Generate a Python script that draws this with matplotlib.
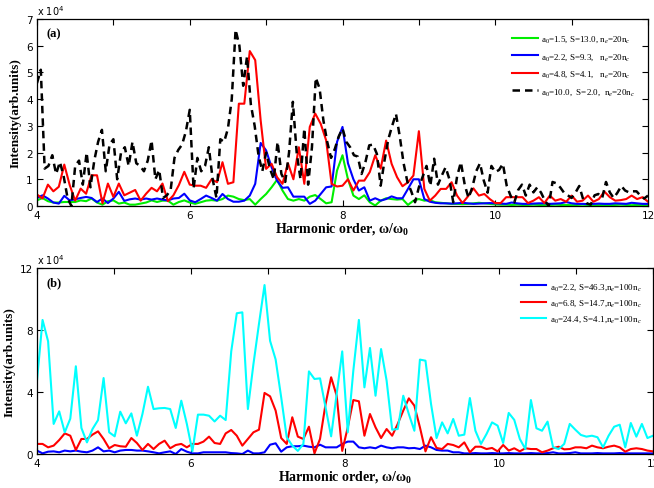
"""
Harmonic spectra for two target densities (n_e = 20 n_c and 100 n_c).
Values are read in units of 1e4 (arb. units) and scaled on plotting.
"""

import matplotlib
matplotlib.use("Agg")
import matplotlib.pyplot as plt
import numpy as np
from matplotlib.ticker import FuncFormatter, MultipleLocator

plt.rcParams["mathtext.fontset"] = "custom"
plt.rcParams["mathtext.rm"] = "Liberation Serif"
plt.rcParams["mathtext.it"] = "Liberation Serif:italic"
plt.rcParams["mathtext.bf"] = "Liberation Serif:bold"

SCALE = 1e4
X_MIN, X_MAX = 4, 12

# ---- panel (a): n_e = 20 n_c, intensity in units of 1e4 ----
green_a = [0.21, 0.3, 0.18, 0.13, 0.13, 0.15, 0.15, 0.15, 0.21, 0.18, 0.28, 0.13, 0.05, 0.18, 0.21,
           0.09, 0.13, 0.05, 0.05, 0.09, 0.13, 0.21, 0.15, 0.2, 0.2, 0.05, 0.15, 0.21, 0.13,
           0.08, 0.14, 0.2, 0.22, 0.2, 0.26, 0.39, 0.35, 0.26, 0.22, 0.26, 0.05, 0.26, 0.45, 0.7,
           0.98, 0.58, 0.26, 0.2, 0.26, 0.2, 0.35, 0.41, 0.26, 0.1, 0.14, 1.33, 1.9,
           1.0, 0.39, 0.26, 0.4, 0.14, 0.02, 0.2, 0.29, 0.26, 0.24, 0.26, 0.04, 0.2, 0.26, 0.2,
           0.22, 0.14, 0.12, 0.1, 0.08, 0.08, 0.07, 0.08, 0.1, 0.12, 0.1, 0.08, 0.06, 0.05, 0.05,
           0.04, 0.05, 0.04, 0.04, 0.05, 0.04, 0.03, 0.04, 0.05, 0.04, 0.04, 0.03, 0.04, 0.05, 0.04,
           0.03, 0.04, 0.04, 0.03, 0.04, 0.05, 0.04, 0.03, 0.04, 0.04, 0.03]
blue_a = [0.3, 0.4, 0.28, 0.13, 0.09, 0.38, 0.21, 0.25, 0.3, 0.34, 0.3, 0.15, 0.28, 0.11, 0.28,
          0.53, 0.19, 0.25, 0.28, 0.24, 0.28, 0.24, 0.28, 0.24, 0.21, 0.28, 0.3, 0.46, 0.21,
          0.14, 0.26, 0.39, 0.3, 0.2, 0.45, 0.26, 0.16, 0.16, 0.2, 0.39, 0.83, 2.36, 2.08, 1.45,
          0.95, 0.68, 0.7, 0.35, 0.35, 0.35, 0.08, 0.2, 0.45, 0.7, 0.73, 2.4, 2.96,
          1.6, 1.0, 0.58, 0.7, 0.2, 0.29, 0.2, 0.26, 0.36, 0.29, 0.29, 0.64, 1.0, 1.0, 0.26,
          0.16, 0.12, 0.1, 0.1, 0.09, 0.1, 0.12, 0.1, 0.08, 0.09, 0.1, 0.11, 0.1, 0.09, 0.08,
          0.13, 0.1, 0.08, 0.08, 0.09, 0.1, 0.1, 0.08, 0.09, 0.1, 0.15, 0.1, 0.08, 0.08, 0.07,
          0.08, 0.09, 0.08, 0.08, 0.1, 0.09, 0.08, 0.12, 0.1, 0.08, 0.08]
red_a = [0.43, 0.28, 0.8, 0.55, 0.72, 1.55, 0.78, 0.2, 0.65, 0.46, 1.15, 1.15, 0.1, 0.84, 0.34,
         0.84, 0.4, 0.5, 0.6, 0.2, 0.46, 0.68, 0.55, 0.84, 0.18, 0.4, 0.78, 1.28, 0.8,
         0.76, 0.76, 0.68, 1.0, 0.89, 1.64, 0.83, 0.89, 3.83, 3.83, 5.8, 5.46, 3.2, 1.39, 1.58,
         1.08, 0.83, 1.6, 1.0, 2.2, 0.83, 2.96, 3.46, 3.08, 2.46, 0.83, 0.73, 0.76,
         1.0, 0.58, 0.95, 0.95, 1.27, 1.9, 1.4, 2.45, 1.58, 1.08, 0.74, 0.89, 1.14, 2.8, 0.64,
         0.2, 0.39, 0.64, 0.64, 0.89, 0.39, 0.11, 0.36, 0.66, 0.39, 0.45, 0.26, 0.11, 0.11, 0.33,
         0.33, 0.33, 0.33, 0.11, 0.2, 0.33, 0.11, 0.39, 0.2, 0.26, 0.16, 0.39, 0.16, 0.2, 0.39,
         0.16, 0.26, 0.54, 0.33, 0.2, 0.22, 0.26, 0.39, 0.26, 0.33, 0.16]
black_a = [4.6, 5.1, 1.4, 1.5, 1.9, 1.2, 1.65, 1.1, 0.3, 0.0, 1.5, 1.7, 0.8, 2.0, 0.7, 1.7,
           2.4, 2.85, 1.3, 2.3, 2.5, 1.0, 2.0, 2.2, 1.5, 2.4, 1.6, 1.5, 1.3, 1.7, 2.45, 1.0,
           1.35, 0.3, 0.4, 0.6, 1.8, 2.1, 2.3, 2.8, 3.6, 0.65, 1.8, 1.3, 1.5, 2.2, 1.0, 0.3,
           2.5, 2.4, 2.9, 4.0, 6.6, 6.0, 4.5, 5.6, 3.8, 3.0, 1.9, 1.3, 2.0, 1.4, 1.0, 2.4,
           1.2, 0.9, 2.0, 3.9, 2.0, 1.0, 2.9, 0.8, 2.2, 4.8, 4.4, 3.2, 2.4,
           1.8, 2.14, 2.6, 2.9, 2.4, 2.2, 1.9, 1.85, 1.2, 1.64, 2.27, 2.3, 1.95, 0.76, 1.7, 2.5,
           3.0, 3.45, 2.6, 1.6, 0.9, 0.55, 0.14, 0.7, 1.1, 1.5, 0.76, 1.77, 0.8, 1.14, 1.45, 1.0,
           0.14, 1.1, 1.64, 0.8, 0.3, 0.7, 1.3, 1.6, 0.95, 0.5, 1.5, 1.27, 1.35, 1.58, 0.76, 0.39,
           0.14, 0.6, 0.8, 0.39, 0.8, 0.51, 0.7, 0.5, 0.2, 0.0, 0.9, 0.85, 0.7, 0.5, 0.4, 0.3,
           0.5, 0.75, 0.26, 0.1, 0.05, 0.4, 0.45, 0.3, 0.9, 0.51, 0.3, 0.5, 0.75, 0.58, 0.51, 0.55,
           0.55, 0.39, 0.28, 0.39]

labels_a = [r"a$_0$=1.5, S=13.0, n$_e$=20n$_c$",
            r"a$_0$=2.2, S=9.3,   n$_e$=20n$_c$",
            r"a$_0$=4.8, S=4.1,   n$_e$=20n$_c$",
            r"a$_0$=10.0,  S=2.0,  n$_e$=20n$_c$"]

# ---- panel (b): n_e = 100 n_c, intensity in units of 1e4 ----
blue_b = [0.22, 0.04, 0.15, 0.17, 0.11, 0.22, 0.17, 0.22, 0.15, 0.11, 0.22, 0.43, 0.17, 0.22, 0.11,
          0.22, 0.26, 0.26, 0.22, 0.22, 0.17, 0.11, 0.04, 0.11, 0.17, 0.0, 0.32, 0.15, 0.04, 0.04,
          0.11, 0.11, 0.11, 0.11, 0.11, 0.06, 0.04, 0.0, 0.22, 0.04, 0.04, 0.11, 0.6, 0.69, 0.15,
          0.43, 0.5, 0.5, 0.54, 0.47, 0.43, 0.6, 0.43, 0.43, 0.43, 0.65,
          0.8, 0.8, 0.43, 0.37, 0.43, 0.37, 0.54, 0.43, 0.37, 0.43, 0.43, 0.37, 0.39, 0.32, 0.54,
          0.43, 0.26, 0.22, 0.22, 0.11, 0.11, 0.04, 0.04, 0.06, 0.04, 0.04, 0.06, 0.04, 0.04, 0.06,
          0.04, 0.04, 0.04, 0.06, 0.04, 0.04, 0.06, 0.11, 0.04, 0.04, 0.06, 0.11, 0.04, 0.04, 0.04,
          0.06, 0.04, 0.04, 0.04, 0.06, 0.04, 0.04, 0.04, 0.04, 0.04, 0.04]
red_b = [0.65, 0.65, 0.43, 0.54, 0.9, 1.33, 1.18, 0.26, 0.97, 0.97, 1.25, 1.46, 0.97, 0.37, 0.58,
         0.5, 0.47, 1.03, 0.71, 0.26, 0.65, 0.32, 0.65, 0.86, 0.37, 0.58, 0.65, 0.43, 0.65, 0.65,
         0.8, 1.12, 0.71, 0.65, 1.33, 1.55, 1.18, 0.54, 0.97, 1.4, 1.57, 3.94, 3.72, 2.8, 1.03,
         0.65, 2.37, 1.12, 0.97, 1.76, 0.04, 0.97, 3.23, 4.95, 3.76, 0.2,
         1.72, 3.48, 3.4, 1.18, 2.58, 1.72, 1.03, 1.61, 1.18, 1.94, 2.8, 3.59, 3.12, 1.72, 0.17,
         1.08, 0.39, 0.32, 0.65, 0.58, 0.43, 0.75, 0.11, 0.47, 0.47, 0.32, 0.39, 0.17, 0.58, 0.22,
         0.37, 0.17, 0.37, 0.32, 0.32, 0.11, 0.22, 0.37, 0.47, 0.3, 0.32, 0.43, 0.43, 0.37, 0.54,
         0.43, 0.37, 0.47, 0.54, 0.43, 0.15, 0.32, 0.37, 0.32, 0.22, 0.17]
cyan_b = [4.73, 8.65, 7.27, 1.94, 2.75, 1.4, 2.28, 5.66, 1.68, 0.75, 1.61, 2.19, 4.9, 1.4, 1.14,
          2.73, 1.98, 2.62, 1.18, 2.58, 4.34, 2.9, 2.95, 2.97, 2.9, 1.68, 3.44, 1.94, 0.17, 2.54,
          2.54, 2.47, 2.1, 2.47, 2.19, 6.62, 9.08, 9.14, 2.9, 5.8, 8.4, 10.9, 7.3, 6.1, 3.66,
          1.08, 0.54, 0.2, 0.65, 5.33, 4.84, 4.88, 3.0, 1.14, 3.87, 6.62,
          1.4, 5.38, 8.65, 4.3, 6.84, 3.76, 6.77, 4.73, 1.57, 1.61, 3.76, 2.58, 1.5, 6.09, 6.02,
          3.23, 1.03, 2.04, 1.33, 2.26, 1.18, 1.25, 3.61, 1.5, 0.65, 1.29, 2.04, 1.83, 0.71, 2.65,
          2.2, 0.97, 0.32, 3.48, 1.66, 1.5, 2.09, 0.43, 0.32, 0.65, 1.94, 1.57, 1.23, 1.12, 1.18,
          1.08, 0.43, 1.18, 1.76, 1.89, 0.43, 2.0, 1.12, 1.94, 1.03, 1.18]

labels_b = [r"a$_0$=2.2, S=46.3,n$_e$=100n$_c$",
            r"a$_0$=6.8, S=14.7,n$_e$=100n$_c$",
            r"a$_0$=24.4, S=4.1,n$_e$=100n$_c$"]

SERIF = "Liberation Serif"


def style_axes(ax, ymax, ystep, tag):
    ax.set_xlim(X_MIN, X_MAX)
    ax.set_ylim(0, ymax * SCALE)
    ax.xaxis.set_major_locator(MultipleLocator(2))
    ax.xaxis.set_minor_locator(MultipleLocator(1))
    ax.yaxis.set_major_locator(MultipleLocator(ystep * SCALE))
    ax.yaxis.set_major_formatter(FuncFormatter(lambda v, _: f"{v / SCALE:g}"))
    ax.tick_params(which="both", direction="in", top=True, right=True, labelsize=7.5,
                   length=4, width=0.8, pad=3)
    ax.tick_params(which="minor", bottom=False, length=4)
    for sp in ax.spines.values():
        sp.set_linewidth(0.9)
    ax.set_xlabel("Harmonic order, ω/ω$_{\\mathbf{0}}$", family=SERIF, fontweight="bold",
                  fontsize=10, labelpad=0)
    ax.set_ylabel("Intensity(arb.units)", family=SERIF, fontweight="bold", fontsize=9.5,
                  labelpad=3)
    ax.text(0.015, 0.955, tag, transform=ax.transAxes, family=SERIF, fontweight="bold",
            fontsize=9, va="top")
    ax.text(0.0, 1.012, r"x 10$^{\mathregular{4}}$", transform=ax.transAxes, fontsize=7,
            va="bottom")


fig = plt.figure(figsize=(6.54, 4.89), dpi=100)
ax_a = fig.add_axes([37 / 654, 1 - 207 / 489, 611 / 654, 187 / 489])
ax_b = fig.add_axes([37 / 654, 1 - 455 / 489, 616 / 654, 186 / 489])

series_a = [(green_a, "#00ee00", "-"), (blue_a, "#0000ff", "-"),
            (red_a, "#ff0000", "-"), (black_a, "black", (0, (3, 2)))]
for (vals, col, ls), lab in zip(series_a, labels_a):
    x = np.linspace(X_MIN, X_MAX, len(vals))
    lw = 1.8 if col == "black" else 1.5
    ax_a.plot(x, np.array(vals) * SCALE, color=col, linestyle=ls, lw=lw, label=lab)

series_b = [(blue_b, "#0000ff"), (red_b, "#ff0000"), (cyan_b, "#00ffff")]
for (vals, col), lab in zip(series_b, labels_b):
    x = np.linspace(X_MIN, X_MAX, len(vals))
    ax_b.plot(x, np.array(vals) * SCALE, color=col, lw=1.5, label=lab)

style_axes(ax_a, 7, 1, "(a)")
style_axes(ax_b, 12, 4, "(b)")

leg_kw = dict(frameon=False, prop={"family": SERIF, "size": 6.5}, handlelength=2.8,
              handletextpad=0.35, borderpad=0, borderaxespad=0, loc="upper left")
ax_a.legend(bbox_to_anchor=(0.778, 0.922), labelspacing=0.8, **leg_kw)
ax_b.legend(bbox_to_anchor=(0.786, 0.928), labelspacing=0.65, **leg_kw)

fig.savefig("out.png", dpi=100)
